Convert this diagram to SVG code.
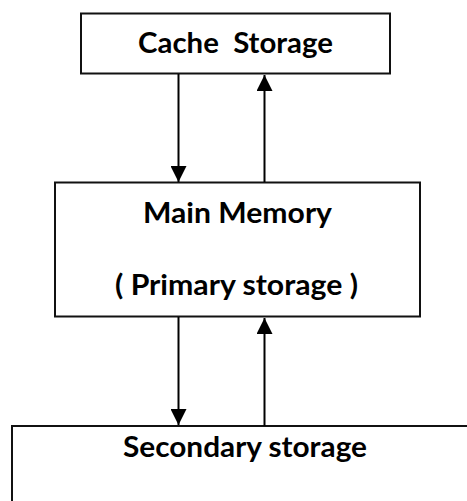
<svg xmlns="http://www.w3.org/2000/svg" width="467" height="501" viewBox="0 0 467 501">
  <style>
    .box { fill: #ffffff; stroke: #111111; stroke-width: 2; }
    .label { font-family: "Lato", "Open Sans", "Liberation Sans", sans-serif; font-weight: bold; font-size: 28px; fill: #000000; white-space: pre; }
    .link { stroke: #000000; stroke-width: 2; fill: none; marker-end: url(#head); }
  </style>
  <defs>
    <marker id="head" markerUnits="userSpaceOnUse" markerWidth="16" markerHeight="16" refX="16" refY="8" orient="auto">
      <path d="M0,0 L16,8 L0,16 z" fill="#000000"/>
    </marker>
  </defs>

  <rect width="467" height="501" fill="#ffffff"/>

  <!-- storage levels -->
  <g id="cache-storage">
    <rect class="box" x="81" y="13.5" width="309" height="60"/>
    <text class="label" x="138" y="53" textLength="195" lengthAdjust="spacingAndGlyphs" xml:space="preserve">Cache  Storage</text>
  </g>

  <g id="main-memory">
    <rect class="box" x="55" y="182.5" width="365" height="134"/>
    <text class="label" x="143" y="223" textLength="189" lengthAdjust="spacingAndGlyphs">Main Memory</text>
    <text class="label" x="115" y="295" textLength="243" lengthAdjust="spacingAndGlyphs">( Primary storage )</text>
  </g>

  <g id="secondary-storage">
    <rect class="box" x="12" y="426" width="470" height="90"/>
    <text class="label" x="123" y="457" textLength="244" lengthAdjust="spacingAndGlyphs">Secondary storage</text>
  </g>

  <!-- data transfer paths -->
  <g id="connectors">
    <line class="link" x1="178.5" y1="74" x2="178.5" y2="182"/>
    <line class="link" x1="264.5" y1="182" x2="264.5" y2="75"/>
    <line class="link" x1="178.5" y1="317" x2="178.5" y2="425"/>
    <line class="link" x1="264.5" y1="426" x2="264.5" y2="318"/>
  </g>
</svg>
